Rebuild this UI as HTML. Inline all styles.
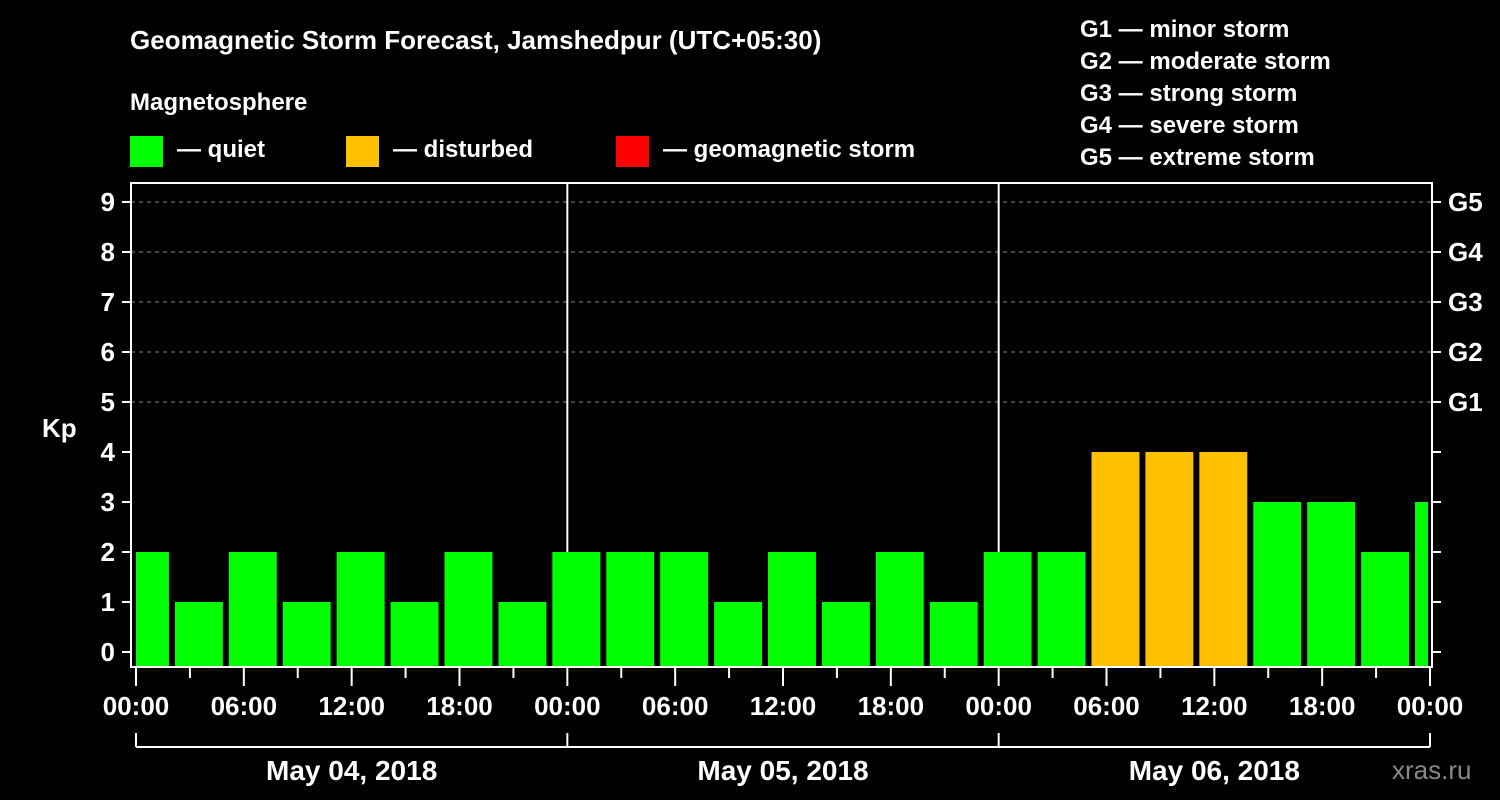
<!DOCTYPE html>
<html><head><meta charset="utf-8"><style>
html,body{margin:0;padding:0;background:#000;}
svg{display:block;font-family:"Liberation Sans",sans-serif;font-weight:bold;}
</style></head><body>
<svg id="chart" width="1500" height="800" viewBox="0 0 1500 800">
<rect width="1500" height="800" fill="#000"/>
<text x="130" y="49" fill="#fff" font-size="26">Geomagnetic Storm Forecast, Jamshedpur (UTC+05:30)</text>
<text x="130" y="110" fill="#fff" font-size="24">Magnetosphere</text>
<g><rect x="130" y="136" width="33" height="31" fill="#00ff00"/><text x="177" y="157" fill="#fff" font-size="24">— quiet</text></g>
<g><rect x="346" y="136" width="33" height="31" fill="#ffc000"/><text x="393" y="157" fill="#fff" font-size="24">— disturbed</text></g>
<g><rect x="616" y="136" width="33" height="31" fill="#ff0000"/><text x="663" y="157" fill="#fff" font-size="24">— geomagnetic storm</text></g>
<g fill="#fff" font-size="24">
<text x="1080" y="37">G1 — minor storm</text>
<text x="1080" y="69">G2 — moderate storm</text>
<text x="1080" y="101">G3 — strong storm</text>
<text x="1080" y="133">G4 — severe storm</text>
<text x="1080" y="165">G5 — extreme storm</text>
</g>
<text x="42" y="437" fill="#fff" font-size="26">Kp</text>
<text x="1392" y="779" fill="#888" font-size="26" font-weight="normal">xras.ru</text>
<g id="grid"></g><g id="bars"></g><g id="axes"></g>
</svg>
<script>
const kpLevels=[0,1,2,3,4,5,6,7,8,9];
const gLabels=["G1","G2","G3","G4","G5"];
const slotStartHours=[-1,2,5,8,11,14,17,20,23,26,29,32,35,38,41,44,47,50,53,56,59,62,65,68,71];
const kpValues=[2,1,2,1,2,1,2,1,2,2,2,1,2,1,2,1,2,2,4,4,4,3,3,2,3];
const timeTickLabels=["00:00","06:00","12:00","18:00","00:00","06:00","12:00","18:00","00:00","06:00","12:00","18:00","00:00"];
const dayLabels=["May 04, 2018","May 05, 2018","May 06, 2018"];
const NS="http://www.w3.org/2000/svg";
const L=131,R=1432,T=183,B=667;
const X=h=>136+h*(1430-136)/72;
const Y=v=>652-v*50;
function mk(p,tag,at){const e=document.createElementNS(NS,tag);for(const k in at)e.setAttribute(k,at[k]);p.appendChild(e);return e;}
const grid=document.getElementById('grid'),bars=document.getElementById('bars'),axes=document.getElementById('axes');
kpLevels.forEach(v=>{if(v>=5){const l=mk(grid,'line',{x1:L,x2:R,y1:Y(v),y2:Y(v),stroke:'#888','stroke-dasharray':'4,4','stroke-width':1});

}});
[24,48].forEach(h=>{const l=mk(grid,'line',{x1:X(h),x2:X(h),y1:T,y2:B,stroke:'#fff','stroke-width':2});

});
slotStartHours.forEach((s,i)=>{const v=kpValues[i];
const x0=s<0?X(0):X(s)+3;const x1=s+3>72?X(72)-2:X(s+3)-3;
const col=v>=5?'#ff0000':(v>=4?'#ffc000':'#00ff00');
const r=mk(bars,'rect',{x:x0,y:Y(v),width:Math.max(0,x1-x0),height:B-Y(v),fill:col});

});
const fr=mk(axes,'rect',{x:L,y:T,width:R-L,height:B-T,fill:'none',stroke:'#fff','stroke-width':2});


kpLevels.forEach(v=>{mk(axes,'line',{x1:122,x2:L,y1:Y(v),y2:Y(v),stroke:'#fff','stroke-width':2});
mk(axes,'line',{x1:R,x2:R+9,y1:Y(v),y2:Y(v),stroke:'#fff','stroke-width':2});
const t=mk(axes,'text',{x:115,y:Y(v)+9,fill:'#fff','font-size':26,'text-anchor':'end'});t.textContent=v;

});
gLabels.forEach((g,i)=>{const t=mk(axes,'text',{x:1448,y:Y(5+i)+9,fill:'#fff','font-size':26});t.textContent=g;

});
for(let h=0;h<=72;h+=3){mk(axes,'line',{x1:X(h),x2:X(h),y1:B,y2:h%6===0?686:678,stroke:'#fff','stroke-width':2});}
timeTickLabels.forEach((lab,i)=>{const t=mk(axes,'text',{x:X(i*6),y:715,fill:'#fff','font-size':26,'text-anchor':'middle'});t.textContent=lab;

});
mk(axes,'line',{x1:X(0),x2:X(72),y1:747,y2:747,stroke:'#fff','stroke-width':2});
[0,24,48,72].forEach(h=>mk(axes,'line',{x1:X(h),x2:X(h),y1:733,y2:747,stroke:'#fff','stroke-width':2}));
dayLabels.forEach((d,i)=>{const t=mk(axes,'text',{x:X(i*24+12),y:780,fill:'#fff','font-size':28,'text-anchor':'middle'});t.textContent=d;

});
</script>
</body></html>
